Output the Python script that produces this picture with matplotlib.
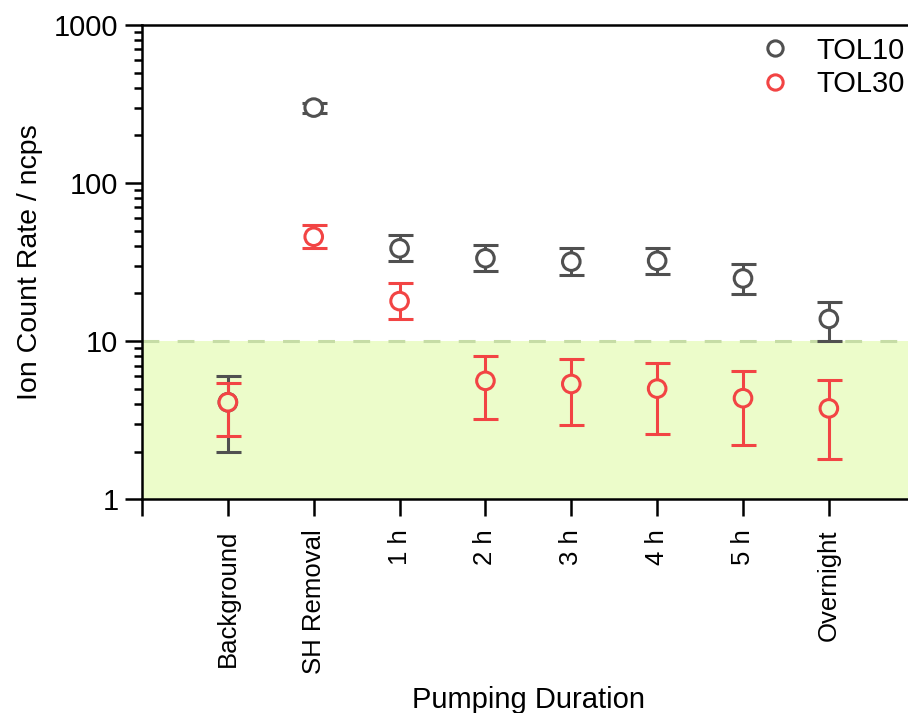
import matplotlib.pyplot as plt
from matplotlib.lines import Line2D

plt.rcParams['font.family'] = ['Liberation Sans', 'DejaVu Sans']

categories = ['Background', 'SH Removal', '1 h', '2 h', '3 h', '4 h', '5 h', 'Overnight']

# TOL10 counts with lower / upper error bounds
tol10 = [4.1, 300, 38.6, 33.4, 31.8, 32.2, 24.9, 13.8]
tol10_lo = [2.0, 279, 32.1, 27.7, 26.2, 26.4, 19.8, 10.0]
tol10_hi = [6.0, 319, 46.9, 40.5, 38.6, 38.6, 30.6, 17.7]

# TOL30 counts with lower / upper error bounds
tol30 = [4.1, 45.7, 17.9, 5.6, 5.35, 5.0, 4.35, 3.75]
tol30_lo = [2.5, 38.6, 13.7, 3.2, 2.95, 2.6, 2.2, 1.8]
tol30_hi = [5.45, 54.0, 23.4, 8.0, 7.7, 7.3, 6.5, 5.7]

threshold = 10
green = '#ECFCCA'
grey = '#505050'
red = '#F24444'

fig = plt.figure(figsize=(9.08, 7.13), dpi=100)
ax = fig.add_axes([0.1564, 0.3, 0.851, 0.665])

x = list(range(1, len(categories) + 1))

ax.axhspan(1, threshold, color=green, zorder=0, lw=0)
ax.axhline(threshold, color='#C6DCA6', lw=2.2, dashes=(5.5, 6), zorder=1)

for vals, lo, hi, col, z in [(tol10, tol10_lo, tol10_hi, grey, 3),
                             (tol30, tol30_lo, tol30_hi, red, 5)]:
    yerr = [[v - l for v, l in zip(vals, lo)], [h - v for v, h in zip(vals, hi)]]
    ax.errorbar(x, vals, yerr=yerr, fmt='none', ecolor=col, elinewidth=2.2,
                capsize=9, capthick=2.2, zorder=z)
    faces = [green if v < threshold else 'white' for v in vals]
    ax.scatter(x, vals, s=160, facecolors=faces, edgecolors=col,
               linewidths=2.2, zorder=z + 1)

ax.set_yscale('log')
ax.set_ylim(1, 1000)
ax.set_xlim(0, 9)
ax.set_yticks([1, 10, 100, 1000])
ax.set_yticklabels(['1', '10', '100', '1000'])
ax.set_xticks(range(0, 10))
ax.set_xticklabels([''] + categories + [''], rotation=90, va='top', ha='center')

ax.spines['right'].set_visible(False)
for s in ['left', 'bottom', 'top']:
    ax.spines[s].set_linewidth(1.8)
ax.tick_params(axis='both', which='major', direction='out', length=12, width=1.8,
               labelsize=21, pad=5)
ax.tick_params(axis='y', which='minor', direction='out', length=6, width=1.8)
ax.tick_params(axis='x', which='major', labelsize=18.5, pad=10)
ax.tick_params(top=False, which='both')

ax.set_ylabel('Ion Count Rate / ncps', fontsize=20.5, labelpad=8)
ax.set_xlabel('Pumping Duration', fontsize=21, labelpad=8)

handles = [Line2D([], [], ls='none', marker='o', ms=11, mfc='none', mec=grey, mew=2.2),
           Line2D([], [], ls='none', marker='o', ms=11, mfc='none', mec=red, mew=2.2)]
ax.legend(handles, ['TOL10', 'TOL30'], loc='upper right', frameon=False,
          fontsize=21, handletextpad=0.4, borderaxespad=0.0,
          bbox_to_anchor=(1.002, 1.0), labelspacing=0.2)

fig.savefig('out.png', dpi=100)
